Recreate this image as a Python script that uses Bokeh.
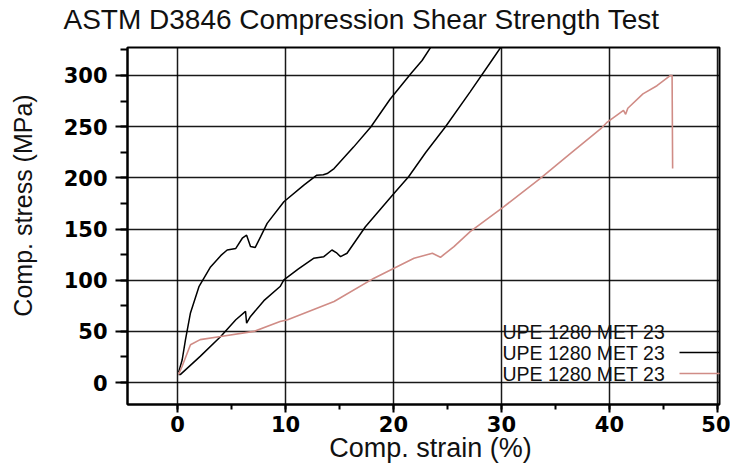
import math
from bokeh.plotting import figure
from bokeh.models import SingleIntervalTicker, Range1d, Label, Arrow
from bokeh.embed import file_html
from bokeh.resources import INLINE

# ---- data ----
title_text = "ASTM D3846 Compression Shear Strength Test"
x_label = "Comp. strain (%)"
y_label = "Comp. stress (MPa)"
series_names = ["UPE 1280 MET 23", "UPE 1280 MET 23", "UPE 1280 MET 23"]

a_x = [0.1, 0.43, 0.74, 1.2, 2.0, 3.06, 4.0, 4.6, 5.4, 6.0, 6.4, 6.76, 7.2, 7.7, 8.3,
       9.85, 11.7, 12.9, 13.5, 13.86, 14.5, 16.3, 17.9, 19.7, 21.6, 22.65, 23.6]
a_y = [10, 22, 42, 68, 94, 113, 124, 129.5, 131, 141, 144, 133, 132, 142.5, 155.5,
       176.6, 192.9, 202.6, 203, 204.2, 209, 230, 249.6, 277, 301.6, 314.6, 330]

b_x = [0.1, 0.28, 2.1, 4.0, 5.4, 6.3, 6.4, 6.76, 8.0, 9.5, 9.85, 11.2, 12.6, 13.55,
       14.3, 14.7, 15.1, 15.7, 17.4, 19.9, 21.4, 23.0, 24.8, 27.1, 29.1, 30.1]
b_y = [8, 8, 25.6, 45, 61.4, 69.5, 58, 64.6, 80, 93.8, 100.3, 111, 121.4, 123,
       129.5, 127, 123, 126.3, 152.2, 183, 201, 225, 249.6, 284, 314.6, 330]

c_x = [0.1, 0.43, 1.2, 2.1, 4.0, 7.07, 9.5, 10.2, 14.5, 18.2, 21.9, 23.6, 24.35, 25.6,
       27.1, 30.2, 33.6, 36.4, 39.2, 39.8, 41.3, 41.5, 41.7, 43.1, 44.4, 45.65, 45.8, 45.85]
c_y = [8, 16, 37, 42, 45, 50, 59.7, 61.4, 79.2, 102, 121.4, 126.3, 122.4, 132.8,
       147.4, 171.7, 199.4, 223.8, 248, 254.5, 265.9, 262, 268, 282, 290, 300, 300, 209]

RED = "#d08c86"

p = figure(width=730, height=464, output_backend="svg", toolbar_location=None,
           x_range=Range1d(-4.63, 50.19), y_range=Range1d(-21.4, 327.3),
           min_border_left=127, min_border_right=11, min_border_top=47, min_border_bottom=59)
p.background_fill_color = "white"
p.border_fill_color = "white"
p.outline_line_color = "black"
p.outline_line_width = 2

p.line(a_x, a_y, line_color="black", line_width=1.5)
p.line(b_x, b_y, line_color="black", line_width=1.5)
p.line(c_x, c_y, line_color=RED, line_width=1.6)

# axes
p.xaxis.ticker = SingleIntervalTicker(interval=10, num_minor_ticks=2)
p.yaxis.ticker = SingleIntervalTicker(interval=50, num_minor_ticks=2)
p.xgrid.ticker = p.xaxis.ticker
p.ygrid.ticker = p.yaxis.ticker
for ax in (p.xaxis, p.yaxis):
    ax.axis_line_color = "black"
    ax.axis_line_width = 2
    ax.major_tick_line_color = "black"
    ax.major_tick_line_width = 2
    ax.minor_tick_line_color = "black"
    ax.minor_tick_line_width = 2
    ax.major_tick_in = 0
    ax.minor_tick_in = 0
    ax.major_label_text_font = "DejaVu Sans"
    ax.major_label_text_font_style = "bold"
    ax.major_label_text_font_size = "21px"
    ax.major_label_text_color = "black"
p.yaxis.major_tick_out = 12
p.yaxis.minor_tick_out = 7
p.yaxis.major_label_standoff = 8
p.xaxis.major_tick_out = 8
p.xaxis.minor_tick_out = 5
p.xaxis.major_label_standoff = 3

for g in (p.xgrid, p.ygrid):
    g.grid_line_color = "black"
    g.grid_line_width = 1.5
    g.grid_line_alpha = 0.9

# title and axis titles (placed in side panels so they are not clipped)
p.add_layout(Label(x=63, y=19, x_units="canvas", y_units="canvas", text=title_text,
                   text_font="Liberation Sans", text_font_size="28px",
                   text_color="#111111", text_baseline="alphabetic", text_align="left"), "above")
p.add_layout(Label(x=430, y=447, x_units="canvas", y_units="canvas", text=x_label,
                   text_font="Liberation Sans", text_font_size="27px",
                   text_color="#111111", text_baseline="alphabetic", text_align="center"), "below")
p.add_layout(Label(x=22, y=205, x_units="canvas", y_units="canvas", text=y_label,
                   angle=math.pi / 2, text_font="Liberation Sans", text_font_size="25px",
                   text_color="#111111", text_baseline="alphabetic", text_align="center"), "left")

# legend (text followed by line sample)
leg_y = [73, 52, 31]
leg_colors = [None, "black", RED]
for name, yy, col in zip(series_names, leg_y, leg_colors):
    p.add_layout(Label(x=375, y=yy, x_units="screen", y_units="screen", text=name,
                       text_font="Liberation Sans", text_font_size="19.5px",
                       text_color="#111111", text_baseline="middle", text_align="left"))
    if col is not None:
        p.add_layout(Arrow(end=None, start=None, x_start=552, x_end=600, y_start=yy, y_end=yy,
                           start_units="screen", end_units="screen",
                           line_color=col, line_width=1.5))

open("out.html", "w").write(file_html(p, INLINE))
